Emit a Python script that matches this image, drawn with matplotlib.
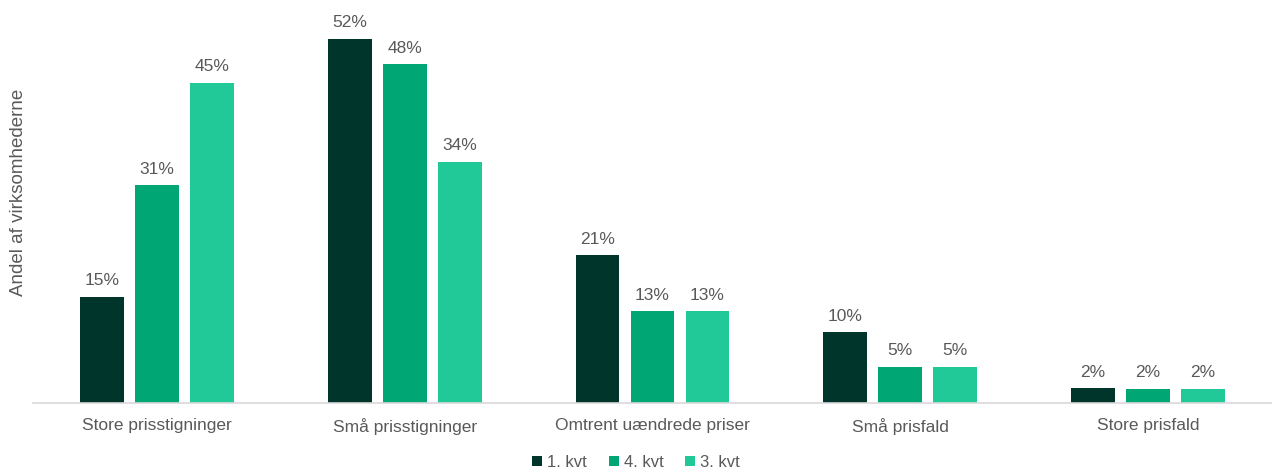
import matplotlib.pyplot as plt
import numpy as np

plt.rcParams['font.family'] = ['Liberation Sans', 'DejaVu Sans']

categories = ['Store prisstigninger', 'Små prisstigninger', 'Omtrent uændrede priser',
              'Små prisfald', 'Store prisfald']
series_names = ['1. kvt', '4. kvt', '3. kvt']
kvt1 = [0.150, 0.515, 0.209, 0.100, 0.021]
kvt4 = [0.308, 0.479, 0.130, 0.051, 0.020]
kvt3 = [0.453, 0.341, 0.130, 0.051, 0.020]
colors = ['#00352C', '#00A774', '#20C997']

fig = plt.figure(figsize=(12.72, 4.73), dpi=100)
ax = fig.add_axes([0.026, 0.148, 0.974, 0.822])

x = np.arange(len(categories))
width = 0.177
step = 0.222
grey = '#595959'
for i, (vals, name, c) in enumerate(zip([kvt1, kvt4, kvt3], series_names, colors)):
    bars = ax.bar(x + (i - 1) * step, vals, width, color=c, label=name)
    for b, v in zip(bars, vals):
        ax.text(b.get_x() + b.get_width() / 2, v + 0.012, f'{round(v * 100)}%',
                ha='center', va='bottom', fontsize=12.5, color=grey)

ax.set_xlim(-0.5, len(categories) - 0.5)
ax.set_ylim(0, 0.55)
ax.set_xticks(x)
ax.set_xticklabels(categories, fontsize=12.5, color=grey)
ax.tick_params(axis='x', length=0, pad=11)
ax.set_yticks([])
ax.set_ylabel('Andel af virksomhederne', fontsize=13.5, color=grey)
ax.yaxis.set_label_coords(-0.005, 0.542)
for s in ['top', 'right', 'left']:
    ax.spines[s].set_visible(False)
ax.spines['bottom'].set_color('#D9D9D9')
ax.spines['bottom'].set_linewidth(1.2)

leg = fig.legend(loc='lower center', bbox_to_anchor=(0.5, -0.025), ncol=3, frameon=False,
                 fontsize=12, handlelength=0.6, handleheight=0.6, handletextpad=0.3,
                 columnspacing=1.3)
for t in leg.get_texts():
    t.set_color(grey)

fig.savefig('out.png', dpi=100)
